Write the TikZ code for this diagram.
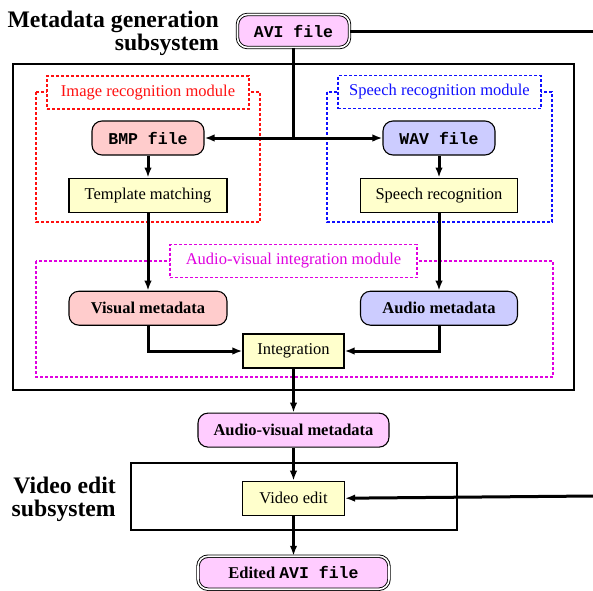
\documentclass[tikz,border=0pt]{standalone}
\usepackage{fontspec}
\setmainfont{Liberation Serif}
\setmonofont{Liberation Mono}
\usetikzlibrary{arrows.meta, positioning}
\definecolor{avipink}{HTML}{FFCCFF}
\definecolor{bmpred}{HTML}{FFCCCC}
\definecolor{wavblue}{HTML}{CCCCFF}
\definecolor{procyellow}{HTML}{FFFFCC}
\definecolor{modred}{HTML}{FF1010}
\definecolor{modblue}{HTML}{1010FF}
\definecolor{modmag}{HTML}{E000E0}
\newcommand{\mono}[1]{{\ttfamily\bfseries #1}}

\begin{document}
\begin{tikzpicture}[
    x=1pt, y=-1pt,
    font=\fontsize{16.5}{19}\selectfont,
    node distance=22pt,
    ffile/.style={draw, line width=1.1pt, rounded corners=10pt, minimum width=112pt, minimum height=34pt, inner sep=2pt, align=center},
    dfile/.style={ffile, double, double distance=1.6pt, line width=0.9pt, fill=avipink, minimum height=33pt},
    proc/.style={draw, line width=1.1pt, fill=procyellow, minimum width=158pt, minimum height=34pt, inner sep=2pt},
    meta/.style={ffile, minimum width=158pt, font=\fontsize{16.5}{19}\selectfont\bfseries},
    module/.style={line width=1.3pt, dash pattern=on 3pt off 2pt},
    modlbl/.style={module, draw=#1, text=#1, fill=white, minimum height=33pt, inner sep=4pt},
    heading/.style={font=\fontsize{23.7}{23}\selectfont\bfseries, align=right, inner sep=0pt},
    arr/.style={-{Latex[length=10pt, width=7.5pt]}, line width=3pt}
]
\useasboundingbox (0,0) rectangle (593,590);

% subsystem frames and modules
\draw[line width=1.3pt] (13,64) rectangle (574,390);
\draw[line width=1.3pt] (131,463) rectangle (457,530);
\draw[module, modred] (36,92) rectangle (260,222);
\draw[module, modblue] (327,92) rectangle (552,222);
\draw[module, modmag] (36,261) rectangle (553,377);
\node[modlbl=modred, minimum width=202pt] (imglbl) at (148,92.5) {Image recognition module};
\node[modlbl=modblue, minimum width=203pt] (spchlbl) at (439.5,92) {Speech recognition module};
\node[modlbl=modmag, minimum width=247pt] (avlbl) at (293.5,261) {Audio-visual integration module};

% data and processing nodes
\node[dfile] (avi) at (293.5,31) {\mono{AVI file}};
\node[ffile, fill=bmpred] (bmp) at (148,138) {\mono{BMP file}};
\node[ffile, fill=wavblue] (wav) at (439,138) {\mono{WAV file}};
\node[proc, below=of bmp] (tmpl) {Template matching};
\node[proc, minimum width=157pt, below=of wav] (speech) {Speech recognition};
\node[meta, fill=bmpred, below=78pt of tmpl] (visual) {Visual metadata};
\node[meta, fill=wavblue, minimum width=157pt, below=78pt of speech] (audio) {Audio metadata};
\node[proc, minimum width=101pt] (integ) at (293.5,351) {Integration};
\node[meta, fill=avipink, minimum width=191pt, below=44pt of integ] (avmeta) {Audio-visual metadata};
\node[proc, minimum width=102pt, below=33pt of avmeta] (vedit) {Video edit};
\node[dfile, minimum width=191pt, below=40pt of vedit] (edited) {\textbf{Edited} \mono{AVI file}};

\node[heading, left=18pt of avi, yshift=-2pt] (gentitle) {Metadata generation\\subsystem};
\node[heading, left=126pt of vedit, yshift=-1pt] (edittitle) {Video edit\\subsystem};

\coordinate (aviout) at (593,31);
\coordinate (editin) at (593,496);

% connectors
\draw[line width=3pt] (avi.east) -- (aviout);
\draw[arr] (avi.south) |- (bmp.east);
\draw[arr] (avi.south) |- (wav.west);
\draw[arr] (bmp) -- (tmpl);
\draw[arr] (wav) -- (speech);
\draw[arr] (tmpl) -- (visual);
\draw[arr] (speech) -- (audio);
\draw[arr] (visual.south) |- (integ.west);
\draw[arr] (audio.south) |- (integ.east);
\draw[arr] (integ) -- (avmeta);
\draw[arr] (avmeta) -- (vedit);
\draw[arr] (vedit) -- (edited);
\draw[arr] (editin) -- (vedit.east);
\end{tikzpicture}
\end{document}
